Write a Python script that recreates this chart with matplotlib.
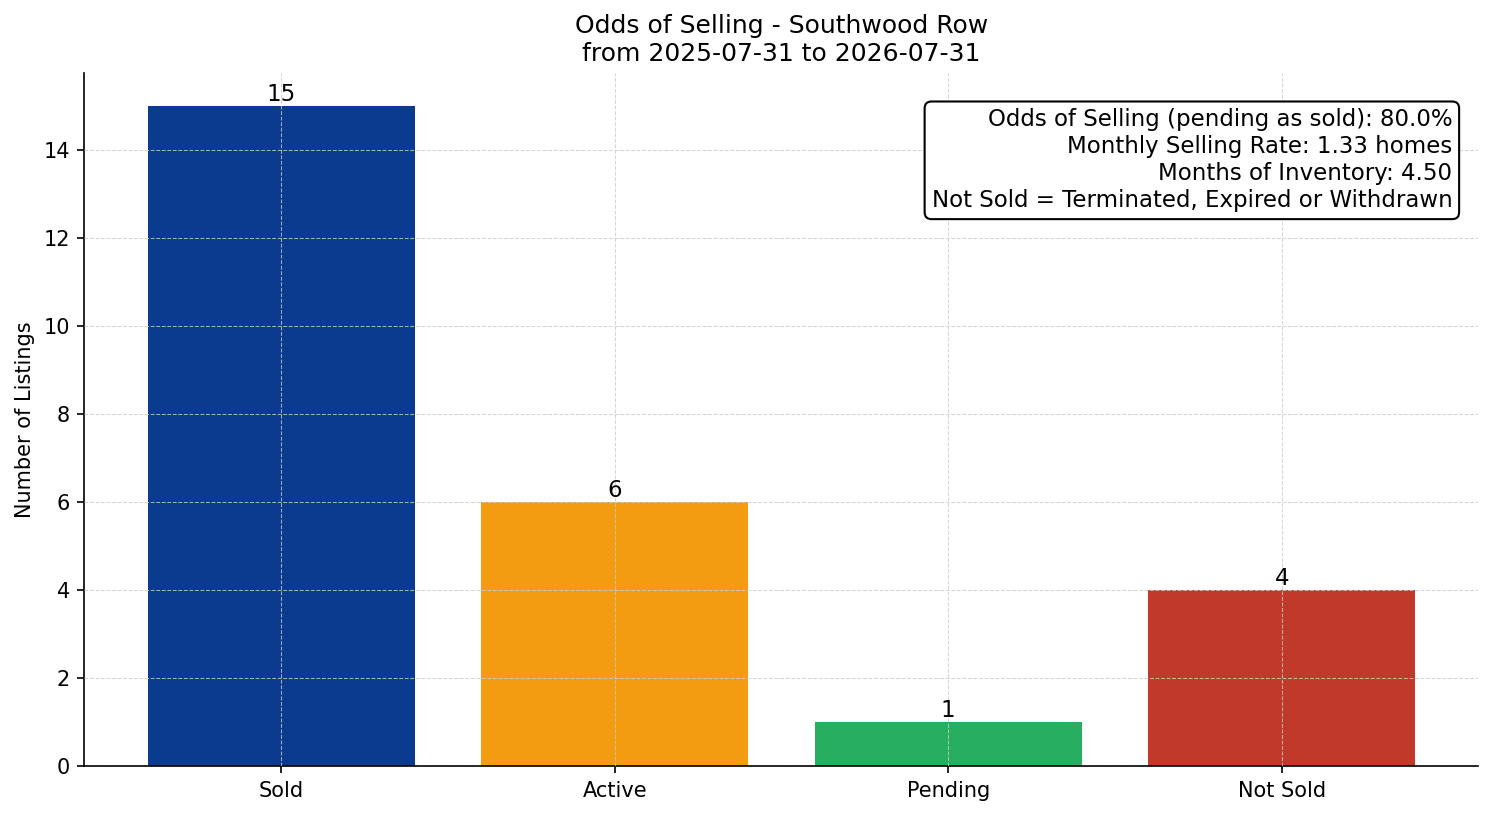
import matplotlib
matplotlib.use("Agg")
import matplotlib.pyplot as plt

categories = ["Sold", "Active", "Pending", "Not Sold"]
counts = [15, 6, 1, 4]
colors = ["#0b3b8f", "#f39c12", "#27ae60", "#c0392b"]
title = "Odds of Selling - Southwood Row\nfrom 2025-07-31 to 2026-07-31"
info_lines = [
    "Odds of Selling (pending as sold): 80.0%",
    "Monthly Selling Rate: 1.33 homes",
    "Months of Inventory: 4.50",
    "Not Sold = Terminated, Expired or Withdrawn",
]

fig = plt.figure(figsize=(9.96, 5.44), dpi=150)
ax = fig.add_axes([0.0565, 0.0613, 0.9331, 0.8492])
bars = ax.bar(categories, counts, color=colors, width=0.8)
for b, v in zip(bars, counts):
    ax.text(b.get_x() + b.get_width() / 2, v, str(v), ha="center", va="bottom", fontsize=11)

ax.set_title(title, fontsize=12)
ax.set_ylabel("Number of Listings", fontsize=10)
ax.grid(True, linestyle="--", linewidth=0.5, color="#cccccc", alpha=0.8)
ax.set_axisbelow(False)
ax.spines["top"].set_visible(False)
ax.spines["right"].set_visible(False)
ax.tick_params(labelsize=10)

ax.text(0.9812, 0.949, "\n".join(info_lines), transform=ax.transAxes, ha="right", va="top",
        fontsize=11, zorder=5, linespacing=1.22,
        bbox=dict(boxstyle="round,pad=0.3", facecolor="white", edgecolor="black"))

fig.savefig("out.png", dpi=150)
